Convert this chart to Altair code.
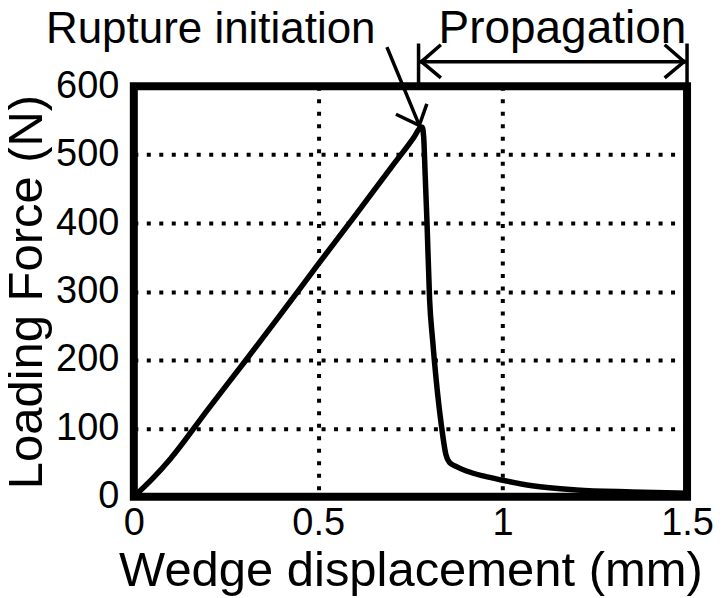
import altair as alt
import pandas as pd

# Curve data (wedge displacement in mm, loading force in N)
disp = [0.0, 0.05, 0.1, 0.2, 0.3, 0.4, 0.5, 0.6, 0.7, 0.76, 0.776, 0.782,
        0.786, 0.79, 0.795, 0.802, 0.81, 0.82, 0.834, 0.846, 0.856, 0.875, 0.9, 0.95, 1.0,
        1.08, 1.2, 1.35, 1.5]
force = [0, 26, 56, 127, 197, 268, 340, 411, 483, 526, 539, 540,
         525, 470, 400, 288, 230, 170, 104, 62, 50, 44, 38, 30, 24,
         16, 10, 7, 5]

# Annotation segments (in data units)
seg_x = [0.688, 0.774, 0.774, 0.772, 1.5, 0.780, 0.780, 0.780, 1.492, 1.492]
seg_y = [655, 543, 543, 604, 604, 636, 636, 636, 636, 636]
seg_x2 = [0.774, 0.715, 0.793, 0.772, 1.5, 1.492, 0.829, 0.829, 1.443, 1.443]
seg_y2 = [543, 558, 572, 660, 660, 636, 659, 614, 659, 614]

# Annotation texts
ann_text = ["Rupture initiation", "Propagation"]
ann_x = [0.2085, 1.162]
ann_y = [664, 664]

FONT = "Liberation Sans"

curve_df = pd.DataFrame({"d": disp, "f": force})
seg_df = pd.DataFrame({"x": seg_x, "y": seg_y, "x2": seg_x2, "y2": seg_y2})
ann_df = pd.DataFrame({"t": ann_text, "x": ann_x, "y": ann_y})

xscale = alt.Scale(domain=[0, 1.5], nice=False, zero=False)
yscale = alt.Scale(domain=[0, 600], nice=False, zero=False)

xaxis = alt.Axis(values=[0, 0.5, 1, 1.5], labelExpr="datum.value == 0 ? '0' : format(datum.value, '')",
                 title="Wedge displacement (mm)", ticks=False, domain=False,
                 grid=True, gridColor="black", gridDash=[4, 8.5], gridWidth=4,
                 labelFont=FONT, labelFontSize=38, labelColor="black", labelPadding=8,
                 labelBaseline="top", labelFlush=False,
                 titleFont=FONT, titleFontSize=49, titleFontWeight="normal", titleColor="black",
                 titlePadding=4)
yaxis = alt.Axis(values=[0, 100, 200, 300, 400, 500, 600], title="Loading Force (N)",
                 ticks=False, domain=False,
                 grid=True, gridColor="black", gridDash=[4, 8.5], gridWidth=4,
                 labelFont=FONT, labelFontSize=38, labelColor="black", labelPadding=15,
                 labelFlush=False,
                 titleFont=FONT, titleFontSize=49, titleFontWeight="normal", titleColor="black",
                 titlePadding=4)

curve = alt.Chart(curve_df).mark_line(color="black", strokeWidth=5.5, strokeJoin="round",
                                      interpolate="monotone").encode(
    x=alt.X("d:Q", scale=xscale, axis=xaxis),
    y=alt.Y("f:Q", scale=yscale, axis=yaxis),
    order=alt.Order("d:Q"),
)

segs = alt.Chart(seg_df).mark_rule(color="black", strokeWidth=3.5, clip=False, strokeCap="square").encode(
    x=alt.X("x:Q", scale=xscale), y=alt.Y("y:Q", scale=yscale),
    x2="x2:Q", y2="y2:Q",
)

text_rupture = alt.Chart(ann_df).transform_filter(alt.datum.t == "Rupture initiation").mark_text(
    font=FONT, fontSize=44, color="black", align="center", baseline="alphabetic", clip=False
).encode(x=alt.X("x:Q", scale=xscale), y=alt.Y("y:Q", scale=yscale), text="t:N")

text_prop = alt.Chart(ann_df).transform_filter(alt.datum.t == "Propagation").mark_text(
    font=FONT, fontSize=46, color="black", align="center", baseline="alphabetic", clip=False
).encode(x=alt.X("x:Q", scale=xscale), y=alt.Y("y:Q", scale=yscale), text="t:N")

chart = alt.layer(curve, segs, text_rupture, text_prop).properties(
    width=554, height=411,
    background="white",
    autosize=alt.AutoSizeParams(type="none"),
    padding={"left": 126, "top": 78, "right": 30, "bottom": 100},
).configure_view(stroke="black", strokeWidth=8)

chart.save("out.html", embed_options={"renderer": "svg", "actions": False})
